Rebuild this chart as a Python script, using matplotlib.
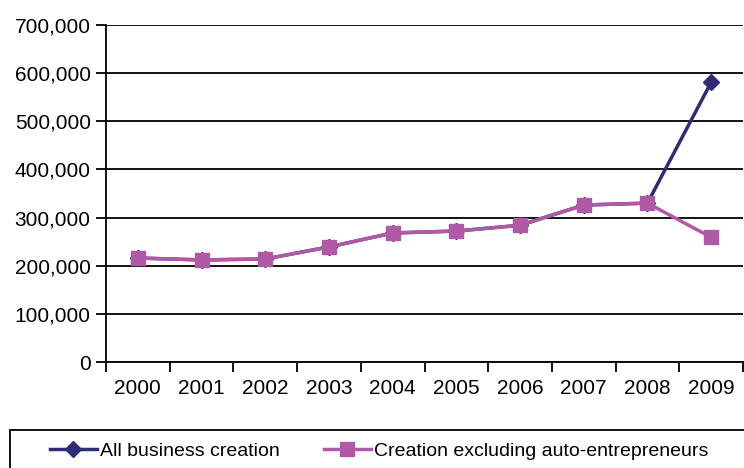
import matplotlib.pyplot as plt
import numpy as np
from matplotlib.patches import Rectangle

plt.rcParams['font.family'] = ['Liberation Sans', 'DejaVu Sans']

years = ['2000', '2001', '2002', '2003', '2004', '2005', '2006', '2007', '2008', '2009']
all_creation = [216000, 212000, 214000, 239000, 268000, 272000, 284000, 326000, 330000, 581000]
excl_auto = [216000, 212000, 214000, 239000, 268000, 272000, 284000, 326000, 330000, 259000]

navy = '#2f2b74'
pink = '#b05aa7'

W, H = 744, 468
fig = plt.figure(figsize=(W/100, H/100), dpi=100)
ax = fig.add_axes([106/W, 1 - 362/H, 637/W, (362 - 25)/H])

x = np.arange(len(years))
ax.plot(x, all_creation, color=navy, lw=2.5, marker='D', ms=8,
        label='All business creation', zorder=3)
ax.plot(x, excl_auto, color=pink, lw=2.5, marker='s', ms=10,
        label='Creation excluding auto-entrepreneurs', zorder=4)

ax.set_xlim(-0.5, len(years) - 0.5)
ax.set_ylim(0, 700000)
ax.set_yticks(np.arange(0, 700001, 100000))
ax.yaxis.set_major_formatter(plt.FuncFormatter(lambda v, p: f'{int(v):,}'))
ax.yaxis.grid(True, color='black', lw=1.3)
ax.set_axisbelow(True)

# category labels centred, tick marks between categories
ax.set_xticks(x)
ax.set_xticklabels(years)
ax.set_xticks(np.arange(-0.5, len(years)), minor=True)
ax.tick_params(axis='x', which='major', length=0, pad=12, labelsize=15)
ax.tick_params(axis='x', which='minor', length=7, width=1.3, direction='out')
ax.tick_params(axis='y', length=7, width=1.3, direction='out', labelsize=15, pad=4)

for s in ['top', 'right']:
    ax.spines[s].set_visible(False)
for s in ['left', 'bottom']:
    ax.spines[s].set_linewidth(1.3)

# legend box runs off the right and bottom edges
fig.patches.append(Rectangle((10/W, -0.05), 1.0, (468 - 430)/H + 0.05,
                             transform=fig.transFigure, fill=False,
                             edgecolor='black', lw=1.3))
leg = fig.legend(loc='center left', bbox_to_anchor=(50/W, 1 - 451/H),
                 ncol=2, fontsize=14, frameon=False,
                 columnspacing=2.3, handlelength=2.4, handletextpad=0.15,
                 borderpad=0, borderaxespad=0)

fig.savefig('out.png', dpi=100)
